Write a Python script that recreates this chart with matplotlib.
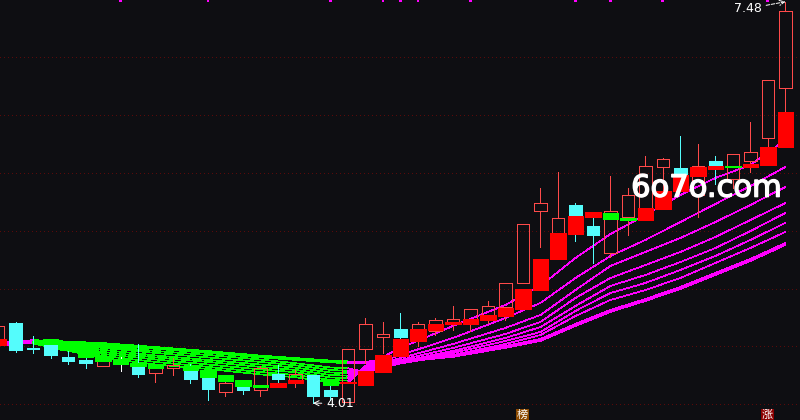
import numpy as np
import matplotlib
matplotlib.use('Agg')
import matplotlib.pyplot as plt
import matplotlib.patheffects as pe
from matplotlib.patches import Rectangle
from matplotlib.collections import LineCollection

plt.rcParams['lines.antialiased'] = False
plt.rcParams['patch.antialiased'] = False

nan = np.nan

# --- daily candles (price) --- #
opens = [4.56, 4.70, 4.49, 4.52, 4.41, 4.38, 4.33, 4.37, 4.34, 4.27,
         4.31, 4.31, 4.24, 4.11, 4.16, 4.12, 4.26, 4.21, 4.25, 4.12,
         4.02, 4.48, 4.58, 4.65, 4.65, 4.63, 4.71, 4.69, 4.74, 4.84,
         5.05, 5.67, 5.48, 5.72, 5.54, 5.31, 5.62, 5.70, 6.05, 6.04,
         5.81, 6.10, 5.95, 6.10, 6.30, 6.73]
highs = [4.69, 4.71, 4.59, 4.53, 4.46, 4.40, 4.38, 4.41, 4.52, 4.31,
         4.40, 4.35, 4.24, 4.20, 4.17, 4.33, 4.34, 4.30, 4.25, 4.17,
         4.48, 4.75, 4.71, 4.79, 4.71, 4.75, 4.85, 4.82, 4.89, 5.05,
         5.56, 5.87, 6.01, 5.74, 5.62, 5.97, 5.87, 6.15, 6.13, 6.32,
         6.25, 6.15, 6.16, 6.44, 6.80, 7.48]
lows = [4.54, 4.45, 4.44, 4.40, 4.35, 4.31, 4.33, 4.29, 4.24, 4.19,
        4.25, 4.18, 4.04, 4.07, 4.09, 4.07, 4.19, 4.15, 4.01, 4.04,
        4.02, 4.36, 4.44, 4.57, 4.50, 4.60, 4.64, 4.63, 4.70, 4.73,
        5.05, 5.36, 5.26, 5.41, 5.22, 5.27, 5.46, 5.59, 5.69, 5.84,
        5.62, 5.90, 5.87, 6.01, 6.22, 6.53]
closes = [4.68, 4.47, 4.48, 4.43, 4.37, 4.36, 4.38, 4.37, 4.26, 4.31,
          4.34, 4.22, 4.13, 4.18, 4.12, 4.31, 4.22, 4.26, 4.07, 4.07,
          4.48, 4.69, 4.61, 4.58, 4.69, 4.73, 4.74, 4.82, 4.85, 5.05,
          5.56, 5.74, 5.61, 5.63, 5.46, 5.67, 5.81, 6.06, 6.12, 5.98,
          6.06, 6.06, 6.16, 6.18, 6.80, 7.40]

# --- indicator blocks (from -> to), red when rising, green when falling --- #
blk_from = [4.51, nan, nan, 4.56, 4.53, 4.47, 4.42, 4.39, 4.36, 4.34,
            nan, 4.33, 4.30, 4.25, 4.21, 4.17, 4.15, 4.18, nan, 4.21,
            4.18, 4.17, 4.28, 4.42, 4.55, 4.64, 4.69, 4.69, 4.73, 4.76,
            4.82, 4.99, 5.26, 5.47, 5.62, 5.65, 5.61, 5.59, 5.69, 5.84,
            5.97, 6.03, 6.06, 6.05, 6.07, 6.22]
blk_to = [4.56, nan, nan, 4.52, 4.47, 4.41, 4.37, 4.35, 4.33, 4.31,
          nan, 4.30, 4.24, 4.20, 4.16, 4.15, 4.18, 4.21, nan, 4.17,
          4.19, 4.29, 4.43, 4.56, 4.65, 4.69, 4.71, 4.74, 4.77, 4.83,
          5.00, 5.26, 5.48, 5.63, 5.66, 5.60, 5.59, 5.70, 5.84, 5.98,
          6.05, 6.06, 6.05, 6.08, 6.22, 6.53]

# --- moving average ribbon (shortest -> longest) --- #
rib_idx = [0, 2, 6, 9, 12, 15, 17, 19, 20, 21, 23, 26, 29, 31, 33, 35, 37, 39, 41, 43, 45]
rib_1 = [4.547, 4.526, 4.400, 4.344, 4.305, 4.258, 4.234, 4.189, 4.182, 4.331, 4.487,
         4.677, 4.859, 5.023, 5.265, 5.472, 5.637, 5.810, 5.957, 6.069, 6.285]
rib_2 = [4.543, 4.530, 4.418, 4.366, 4.323, 4.279, 4.253, 4.210, 4.204, 4.323, 4.426,
         4.573, 4.746, 4.876, 5.092, 5.282, 5.421, 5.576, 5.732, 5.887, 6.052]
rib_3 = [4.539, 4.534, 4.435, 4.387, 4.344, 4.301, 4.277, 4.232, 4.225, 4.310, 4.400,
         4.521, 4.660, 4.772, 4.988, 5.196, 5.317, 5.438, 5.576, 5.723, 5.879]
rib_4 = [4.534, 4.539, 4.452, 4.405, 4.366, 4.323, 4.297, 4.253, 4.247, 4.301, 4.383,
         4.487, 4.608, 4.712, 4.919, 5.092, 5.204, 5.317, 5.447, 5.593, 5.740]
rib_5 = [4.530, 4.543, 4.470, 4.422, 4.383, 4.344, 4.317, 4.275, 4.268, 4.292, 4.370,
         4.461, 4.573, 4.668, 4.850, 5.023, 5.118, 5.230, 5.351, 5.498, 5.654]
rib_6 = [4.526, 4.545, 4.487, 4.444, 4.405, 4.366, 4.337, 4.297, 4.288, 4.284, 4.362,
         4.444, 4.547, 4.625, 4.807, 4.962, 5.049, 5.161, 5.282, 5.421, 5.568]
rib_7 = [4.521, 4.547, 4.500, 4.461, 4.426, 4.387, 4.355, 4.318, 4.311, 4.279, 4.353,
         4.426, 4.521, 4.599, 4.763, 4.902, 4.988, 5.092, 5.222, 5.351, 5.490]
rib_8 = [4.513, 4.547, 4.521, 4.487, 4.452, 4.413, 4.392, 4.370, 4.363, 4.362, 4.374,
         4.418, 4.496, 4.556, 4.686, 4.807, 4.902, 5.006, 5.127, 5.248, 5.386]

# --- misc --- #
grid_levels = [4.0, 4.5, 5.0, 5.5, 6.0, 6.5, 7.0]
tick_idx = [7, 12, 19, 22, 23, 24, 27, 33, 35, 38, 44]
mark_idx = [30, 44]
mark_text = ['榜', '涨']
hi_idx, hi_val = 45, 7.48
lo_idx, lo_val = 18, 4.01

# --- style --- #
BG = '#0e0e12'
UP = '#ff4a4a'
DOWN = '#54fcfc'
RED = '#ff0000'
GREEN = '#00ff00'
MAG = '#ff00ff'
PX = 0.72          # one pixel in points
BW = 0.74          # candle body width
KW = 0.86          # block width
YLO, YHI = 3.864, 7.495

fig = plt.figure(figsize=(8, 4.2), dpi=100, facecolor=BG)
ax = fig.add_axes([0, 0, 1, 1])
ax.set_facecolor(BG)
ax.set_xlim(0.114, 45.83)
ax.set_ylim(YLO, YHI)
ax.axis('off')

# grid (dotted, dark red)
for g in grid_levels:
    ax.axhline(g, color='#5a0a0a', lw=PX, ls=(0, (1, 3)), zorder=1)

# ribbon
ribbon = [rib_1, rib_2, rib_3, rib_4, rib_5, rib_6, rib_7, rib_8]
mean_r = np.mean(np.array(ribbon), axis=0)
seg_col = [MAG if mean_r[k + 1] > mean_r[k] else GREEN for k in range(len(rib_idx) - 1)]
for n, line in enumerate(ribbon):
    segs = [[(rib_idx[k], line[k]), (rib_idx[k + 1], line[k + 1])] for k in range(len(rib_idx) - 1)]
    lw = 1.8 if n == len(ribbon) - 1 else 0.5
    ax.add_collection(LineCollection(segs, colors=seg_col, linewidths=lw,
                                     antialiaseds=False, zorder=2))

# candles
for i in range(len(opens)):
    o, h, l, c = opens[i], highs[i], lows[i], closes[i]
    top, bot = max(o, c), min(o, c)
    if c > o:
        col = UP
    elif c < o:
        col = DOWN
    else:
        col = 'white'
    ax.vlines(i, top, h, color=col, lw=PX, zorder=3)
    ax.vlines(i, l, bot, color=col, lw=PX, zorder=3)
    if c > o:
        ax.add_patch(Rectangle((i - BW / 2, bot), BW, top - bot, fill=False,
                               edgecolor=col, lw=PX, zorder=3))
    elif c < o:
        ax.add_patch(Rectangle((i - BW / 2, bot), BW, top - bot, facecolor=col,
                               edgecolor=col, lw=PX, zorder=3))
    else:
        ax.hlines(o, i - BW / 2, i + BW / 2, color=col, lw=PX, zorder=3)

# blocks
for i in range(len(blk_from)):
    a, b = blk_from[i], blk_to[i]
    if np.isnan(a):
        continue
    col = RED if b > a else GREEN
    ax.add_patch(Rectangle((i - KW / 2, min(a, b)), KW, abs(b - a), facecolor=col,
                           edgecolor=col, lw=PX, zorder=4))

# event ticks on top
ax.bar(tick_idx, 0.02, bottom=YHI - 0.02, width=0.17, color=MAG, zorder=5)

# high / low labels
ax.annotate('%.2f' % hi_val, xy=(hi_idx, hi_val), xytext=(hi_idx - 1.34, 7.42),
            ha='right', va='center', color='white', fontsize=9, zorder=6,
            arrowprops=dict(arrowstyle='->', color='white', lw=0.7, ls='--',
                            shrinkA=1, shrinkB=0, antialiased=True))
ax.annotate('%.2f' % lo_val, xy=(lo_idx, lo_val), xytext=(lo_idx + 0.74, 4.007),
            ha='left', va='center', color='white', fontsize=9, zorder=6,
            arrowprops=dict(arrowstyle='->', color='white', lw=0.7,
                            shrinkA=1, shrinkB=0, antialiased=True))

# bottom signal marks
mark_bg = ['#8c4a00', '#8c0000']
for k, i in enumerate(mark_idx):
    ax.add_patch(Rectangle((i - 0.42, YLO), 0.74, 0.095, facecolor=mark_bg[k], lw=0, zorder=5))
    ax.text(i - 0.05, 3.905, mark_text[k], ha='center', va='center', color='white',
            fontsize=8, family=['Noto Sans CJK SC', 'DejaVu Sans'], zorder=6)

# watermark
ax.text(0.8825, 0.552, '6o7o.com', transform=ax.transAxes, ha='center', va='center',
        fontsize=22, color='white', zorder=7,
        path_effects=[pe.withStroke(linewidth=1.0, foreground='white')])

fig.savefig('out.png', dpi=100, facecolor=BG)
